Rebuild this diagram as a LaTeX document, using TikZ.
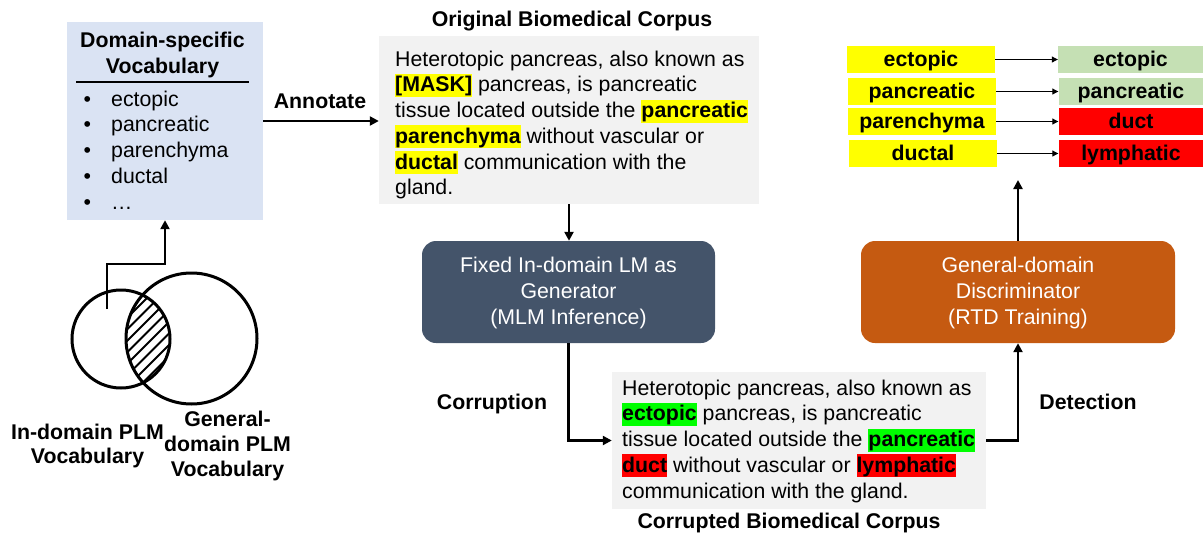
\documentclass[tikz,border=0pt]{standalone}
\usepackage{fontspec}
\setmainfont{Liberation Sans}
\usetikzlibrary{arrows.meta}
\definecolor{hlyellow}{HTML}{FFFF00}
\definecolor{hlgreen}{HTML}{00FF00}
\definecolor{hlred}{HTML}{FF0000}
\definecolor{palegreen}{HTML}{C5E0B4}
\definecolor{vocabblue}{HTML}{DAE3F3}
\definecolor{boxgray}{HTML}{F2F2F2}
\definecolor{genblue}{HTML}{44546A}
\definecolor{discorange}{HTML}{C55A11}
\newcommand\tstrut{\rule[-5pt]{0pt}{23pt}}
\newcommand\hlt[2]{{\setlength\fboxsep{0pt}\colorbox{#1}{\tstrut\bfseries #2}}}
\tikzset{
  arr/.style={line width=2.8pt, -{Triangle[length=9pt,width=9pt]}},
  thinarr/.style={line width=1pt, -{Triangle[length=6pt,width=6pt]}},
  panel/.style={rectangle, inner sep=0pt, fill=#1},
  proc/.style={rectangle, rounded corners=14pt, inner sep=0pt, fill=#1, text=white, align=center, font=\fontsize{21.3}{26}\selectfont},
  cell/.style={rectangle, inner sep=0pt, fill=#1, minimum height=27pt, text height=17pt, text depth=3pt, font=\fontsize{21.3}{25.7}\selectfont\bfseries},
  lbl/.style={inner sep=0pt, font=\fontsize{21.3}{25}\selectfont\bfseries},
  txt/.style={inner sep=0pt, align=left, anchor=north west, font=\fontsize{21.3}{25.7}\selectfont},
}
\begin{document}
\begin{tikzpicture}[x=1pt, y=-1pt]
\useasboundingbox (0,0) rectangle (1203,533);

% ---------- Domain-specific vocabulary ----------
\node[panel=vocabblue, minimum width=196pt, minimum height=198pt] (vocab) at (165,121) {};
\node[lbl, align=center, anchor=north, font=\fontsize{21.3}{26}\selectfont\bfseries] (vocabtitle) at (162.5,29.3) {\tstrut Domain-specific\\\tstrut Vocabulary};
\draw[line width=2pt] (76,81.7) -- (249,81.7);
\node[txt] (vocablist) at (83.3,88) {\tstrut\makebox[27.7pt][l]{•}ectopic\\
\tstrut\makebox[27.7pt][l]{•}pancreatic\\
\tstrut\makebox[27.7pt][l]{•}parenchyma\\
\tstrut\makebox[27.7pt][l]{•}ductal\\
\tstrut\makebox[27.7pt][l]{•}…};

\node[lbl, anchor=base] (annot) at (320,108.7) {Annotate};

% ---------- Original corpus ----------
\node[panel=boxgray, minimum width=380pt, minimum height=168pt] (orig) at (569,120) {};
\node[lbl, anchor=base] (origtitle) at (572,26.7) {Original Biomedical Corpus};
\node[txt] (origtext) at (395,48) {\tstrut Heterotopic pancreas, also known as\\
\hlt{hlyellow}{[MASK]} pancreas, is pancreatic\\
\tstrut tissue located outside the \hlt{hlyellow}{pancreatic}\\
\hlt{hlyellow}{parenchyma} without vascular or\\
\hlt{hlyellow}{ductal} communication with the\\
\tstrut gland.};

% ---------- Generator ----------
\node[proc=genblue, minimum width=293pt, minimum height=102pt] (gen) at (568.5,292) {\tstrut Fixed In-domain LM as\\\tstrut Generator\\\tstrut (MLM Inference)};

% ---------- Corrupted corpus ----------
\node[panel=boxgray, minimum width=374pt, minimum height=137pt] (corr) at (799,440.5) {};
\node[txt] (corrtext) at (622,377) {\tstrut Heterotopic pancreas, also known as\\
\hlt{hlgreen}{ectopic} pancreas, is pancreatic\\
\tstrut tissue located outside the \hlt{hlgreen}{pancreatic}\\
\hlt{hlred}{duct} without vascular or \hlt{hlred}{lymphatic}\\
\tstrut communication with the gland.};
\node[lbl, anchor=base] (corrtitle) at (789,528.3) {Corrupted Biomedical Corpus};

% ---------- Discriminator ----------
\node[proc=discorange, minimum width=314pt, minimum height=102pt] (disc) at (1018,292) {\tstrut General-domain\\\tstrut Discriminator\\\tstrut (RTD Training)};

\node[lbl, anchor=base] (corrlbl) at (492,409) {Corruption};
\node[lbl, anchor=base] (detlbl) at (1088,409.3) {Detection};

% ---------- Token table ----------
\node[cell=hlyellow, minimum width=148pt] (l1) at (921,59.5) {ectopic};
\node[cell=hlyellow, minimum width=148pt] (l2) at (922,91.5) {pancreatic};
\node[cell=hlyellow, minimum width=148pt] (l3) at (922,121.5) {parenchyma};
\node[cell=hlyellow, minimum width=148pt] (l4) at (923,153.5) {ductal};
\node[cell=palegreen, minimum width=145pt] (r1) at (1130.5,59.5) {ectopic};
\node[cell=palegreen, minimum width=145pt] (r2) at (1131,91.5) {pancreatic};
\node[cell=hlred, minimum width=145pt] (r3) at (1131,121.5) {duct};
\node[cell=hlred, minimum width=145pt] (r4) at (1131,153.5) {lymphatic};
\foreach \i in {1,...,4} \draw[thinarr] (l\i.east) -- (r\i.west);

% ---------- Venn diagram ----------
\begin{scope}
  \clip (121,339) circle (49pt);
  \clip (191.5,338.5) circle (65.5pt);
  \foreach \k in {0,...,12} \draw[line width=1.8pt] ({2+\k*11.5},420) -- ++(160,-160);
\end{scope}
\draw[line width=3pt] (121,339) circle (49pt);
\draw[line width=3pt] (191.5,338.5) circle (65.5pt);
\node[lbl, align=center, anchor=north, font=\fontsize{21.3}{24.5}\selectfont\bfseries] (inlbl) at (87.5,421) {\tstrut In-domain PLM\\\tstrut Vocabulary};
\node[lbl, align=center, anchor=north] (genlbl) at (227.5,408.7) {\tstrut General-\\\tstrut domain PLM\\\tstrut Vocabulary};

% ---------- Connectors ----------
\coordinate (vtail) at (107,309);
\coordinate (tabtip) at (1018,180);
\draw[arr] (vtail) -- ++(0,-45) -| (vocab.south);
\draw[arr] (vocab.east) -- (vocab.east -| orig.west);
\draw[arr] (orig.south) -- (orig.south |- gen.north);
\draw[arr] (gen.south) |- (corr.west);
\draw[arr] (corr.east) -| (disc.south);
\draw[arr] (disc.north) -- (tabtip);
\end{tikzpicture}
\end{document}
